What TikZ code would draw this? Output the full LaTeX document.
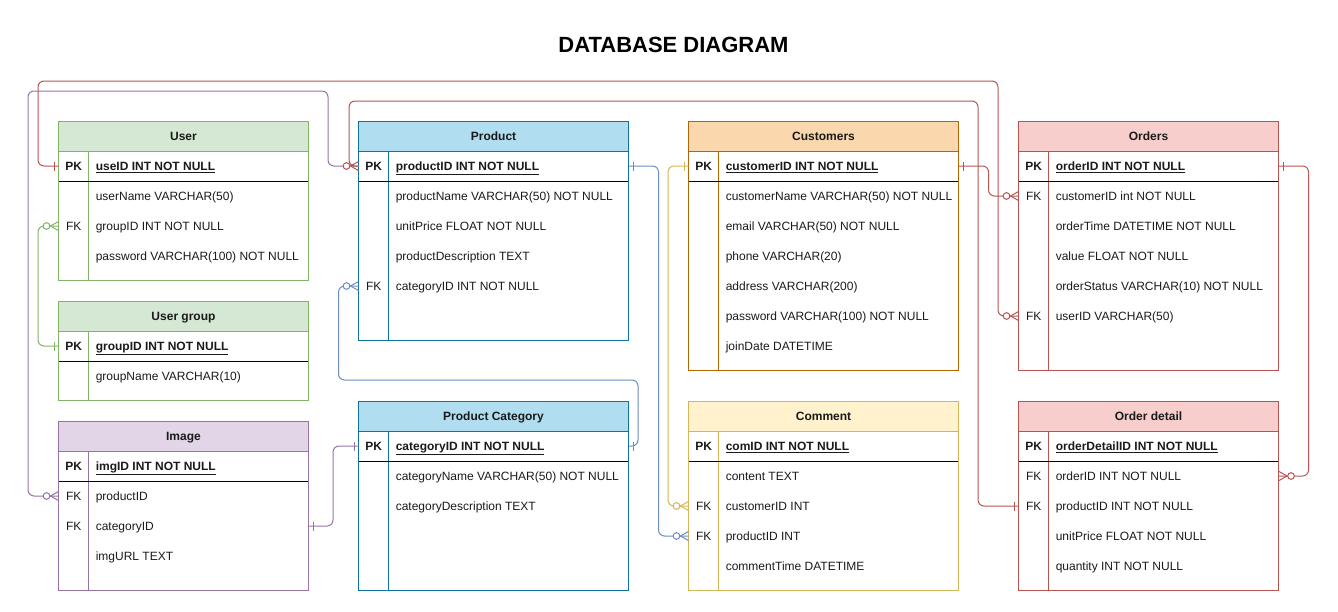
\documentclass[tikz,border=0pt]{standalone}
\usepackage{fontspec}
\setmainfont{Liberation Sans}
\newlength\px \setlength\px{0.75pt}
\definecolor{grF}{HTML}{D5E8D4}\definecolor{grS}{HTML}{82B366}
\definecolor{puF}{HTML}{E1D5E7}\definecolor{puS}{HTML}{9673A6}
\definecolor{blF}{HTML}{B1DDF0}\definecolor{blS}{HTML}{10739E}
\definecolor{orF}{HTML}{FAD7AC}\definecolor{orS}{HTML}{B46504}
\definecolor{yeF}{HTML}{FFF2CC}\definecolor{yeS}{HTML}{D6B656}
\definecolor{reF}{HTML}{F8CECC}\definecolor{reS}{HTML}{B85450}
\definecolor{lnB}{HTML}{6C8EBF}
\definecolor{txt}{HTML}{1A1A1A}
\tikzset{
  tline/.style={line width=0.75pt},
  conn/.style={line width=0.75pt, rounded corners=4.5pt},
  mk/.style={line width=0.75pt},
  hdr/.style={font=\bfseries\fontsize{9}{11}\selectfont, text=txt, inner sep=0pt,
    text height=7.6pt, text depth=1.2pt},
  rowtxt/.style={anchor=west, inner sep=0pt, text height=7.6pt, text depth=1.2pt,
    font=\fontsize{9}{11}\selectfont, text=txt},
}
\newcommand\pkf[1]{\underline{\textbf{#1}}}
\newcommand\ertable[8]{%
  \fill[#6] (#2,#3) rectangle (#4,{#3+30});
  \node[hdr] (#1) at ({(#2+#4)/2},{#3+15}) {#8};
  \draw[tline,#7] (#2,{#3+30}) -- (#4,{#3+30});
  \draw[tline,#7] ({#2+30},{#3+30}) -- ({#2+30},#5);
  \draw[tline,black] (#2,{#3+60}) -- (#4,{#3+60});
  \draw[tline,#7] (#2,#3) rectangle (#4,#5);
}
\newcommand\errow[6]{%
  \node[rowtxt] (#1) at (#2,#4) {\makebox[#3\px][l]{\makebox[30\px]{#5}\hspace{7\px}#6}};
}
\newcommand\mkone[3]{%
  \begin{scope}[shift={(#1)}, xscale=#2]
    \draw[mk,#3] (4,-4.5) -- (4,4.5);
  \end{scope}}
\newcommand\mkzm[3]{%
  \begin{scope}[shift={(#1)}, xscale=#2]
    \draw[mk,#3] (0,-4.5) -- (8,0) -- (0,4.5);
    \draw[mk,#3,fill=white] (12,0) circle[radius=2.5pt];
  \end{scope}}
\begin{document}
\begin{tikzpicture}[x=0.75pt,y=-0.75pt]
\useasboundingbox (0,0) rectangle (1338,611);
\node[font=\bfseries\fontsize{16.5}{19}\selectfont, text=black] (title) at (673.5,45) {DATABASE DIAGRAM};

% ---------- tables ----------
\ertable{user}{58.5}{121}{308.5}{280}{grF}{grS}{User}
\errow{user-pk}{58.5}{250}{166}{\textbf{PK}}{\pkf{useID INT NOT NULL}}
\errow{user-r1}{58.5}{250}{196}{}{userName VARCHAR(50)}
\errow{user-grp}{58.5}{250}{226}{FK}{groupID INT NOT NULL}
\errow{user-r3}{58.5}{250}{256}{}{password VARCHAR(100) NOT NULL}

\ertable{ug}{58.5}{301}{308.5}{400}{grF}{grS}{User group}
\errow{ug-pk}{58.5}{250}{346}{\textbf{PK}}{\pkf{groupID INT NOT NULL}}
\errow{ug-r1}{58.5}{250}{376}{}{groupName VARCHAR(10)}

\ertable{img}{58.5}{421}{308.5}{590}{puF}{puS}{Image}
\errow{img-pk}{58.5}{250}{466}{\textbf{PK}}{\pkf{imgID INT NOT NULL}}
\errow{img-prod}{58.5}{250}{496}{FK}{productID}
\errow{img-cat}{58.5}{250}{526}{FK}{categoryID}
\errow{img-r3}{58.5}{250}{556}{}{imgURL TEXT}

\ertable{prod}{358.5}{121}{628.5}{340}{blF}{blS}{Product}
\errow{prod-pk}{358.5}{270}{166}{\textbf{PK}}{\pkf{productID INT NOT NULL}}
\errow{prod-r1}{358.5}{270}{196}{}{productName VARCHAR(50) NOT NULL}
\errow{prod-r2}{358.5}{270}{226}{}{unitPrice FLOAT NOT NULL}
\errow{prod-r3}{358.5}{270}{256}{}{productDescription TEXT}
\errow{prod-cat}{358.5}{270}{286}{FK}{categoryID INT NOT NULL}

\ertable{pc}{358.5}{401}{628.5}{590}{blF}{blS}{Product Category}
\errow{pc-pk}{358.5}{270}{446}{\textbf{PK}}{\pkf{categoryID INT NOT NULL}}
\errow{pc-r1}{358.5}{270}{476}{}{categoryName VARCHAR(50) NOT NULL}
\errow{pc-r2}{358.5}{270}{506}{}{categoryDescription TEXT}

\ertable{cust}{688.5}{121}{958.5}{370}{orF}{orS}{Customers}
\errow{cust-pk}{688.5}{270}{166}{\textbf{PK}}{\pkf{customerID INT NOT NULL}}
\errow{cust-r1}{688.5}{270}{196}{}{customerName VARCHAR(50) NOT NULL}
\errow{cust-r2}{688.5}{270}{226}{}{email VARCHAR(50) NOT NULL}
\errow{cust-r3}{688.5}{270}{256}{}{phone VARCHAR(20)}
\errow{cust-r4}{688.5}{270}{286}{}{address VARCHAR(200)}
\errow{cust-r5}{688.5}{270}{316}{}{password VARCHAR(100) NOT NULL}
\errow{cust-r6}{688.5}{270}{346}{}{joinDate DATETIME}

\ertable{com}{688.5}{401}{958.5}{590}{yeF}{yeS}{Comment}
\errow{com-pk}{688.5}{270}{446}{\textbf{PK}}{\pkf{comID INT NOT NULL}}
\errow{com-r1}{688.5}{270}{476}{}{content TEXT}
\errow{com-cust}{688.5}{270}{506}{FK}{customerID INT}
\errow{com-prod}{688.5}{270}{536}{FK}{productID INT}
\errow{com-r4}{688.5}{270}{566}{}{commentTime DATETIME}

\ertable{ord}{1018.5}{121}{1278.5}{370}{reF}{reS}{Orders}
\errow{ord-pk}{1018.5}{260}{166}{\textbf{PK}}{\pkf{orderID INT NOT NULL}}
\errow{ord-cust}{1018.5}{260}{196}{FK}{customerID int NOT NULL}
\errow{ord-r2}{1018.5}{260}{226}{}{orderTime DATETIME NOT NULL}
\errow{ord-r3}{1018.5}{260}{256}{}{value FLOAT NOT NULL}
\errow{ord-r4}{1018.5}{260}{286}{}{orderStatus VARCHAR(10) NOT NULL}
\errow{ord-uid}{1018.5}{260}{316}{FK}{userID VARCHAR(50)}

\ertable{od}{1018.5}{401}{1278.5}{590}{reF}{reS}{Order detail}
\errow{od-pk}{1018.5}{260}{446}{\textbf{PK}}{\pkf{orderDetailID INT NOT NULL}}
\errow{od-ord}{1018.5}{260}{476}{FK}{orderID INT NOT NULL}
\errow{od-prod}{1018.5}{260}{506}{FK}{productID INT NOT NULL}
\errow{od-r3}{1018.5}{260}{536}{}{unitPrice FLOAT NOT NULL}
\errow{od-r4}{1018.5}{260}{566}{}{quantity INT NOT NULL}

% ---------- connectors ----------
\draw[conn,reS] (user-pk.west) -- ++(-20.5,0) |- (998,81) |- (ord-uid.west);
\draw[conn,puS] (img-prod.west) -- ++(-30.5,0) |- (328,91) |- (prod-pk.west);
\draw[conn,reS] (prod-pk.west) -- ++(-9.5,0) |- (978,101) |- (od-prod.west);
\draw[conn,grS] (user-grp.west) -- ++(-20.5,0) |- (ug-pk.west);
\draw[conn,lnB] (prod-cat.west) -- ++(-20,0) |- (638,380) |- (pc-pk.east);
\draw[conn,puS] (img-cat.east) -- ++(24,0) |- (pc-pk.west);
\draw[conn,lnB] (prod-pk.east) -- ++(29.5,0) |- (com-prod.west);
\draw[conn,yeS] (cust-pk.west) -- ++(-20.5,0) |- (com-cust.west);
\draw[conn,reS] (cust-pk.east) -- ++(29.5,0) |- (ord-cust.west);
\draw[conn,reS] (ord-pk.east) -- ++(29.5,0) |- (od-ord.east);

% ---------- markers ----------
\mkone{user-pk.west}{-1}{reS}
\mkzm{ord-uid.west}{-1}{reS}
\mkzm{img-prod.west}{-1}{puS}
\mkzm{prod-pk.west}{-1}{reS}
\mkone{od-prod.west}{-1}{reS}
\mkzm{user-grp.west}{-1}{grS}
\mkone{ug-pk.west}{-1}{grS}
\mkzm{prod-cat.west}{-1}{lnB}
\mkone{pc-pk.east}{1}{lnB}
\mkone{img-cat.east}{1}{puS}
\mkone{pc-pk.west}{-1}{puS}
\mkone{prod-pk.east}{1}{lnB}
\mkzm{com-prod.west}{-1}{lnB}
\mkone{cust-pk.west}{-1}{yeS}
\mkzm{com-cust.west}{-1}{yeS}
\mkone{cust-pk.east}{1}{reS}
\mkzm{ord-cust.west}{-1}{reS}
\mkone{ord-pk.east}{1}{reS}
\mkzm{od-ord.east}{1}{reS}
\end{tikzpicture}
\end{document}
